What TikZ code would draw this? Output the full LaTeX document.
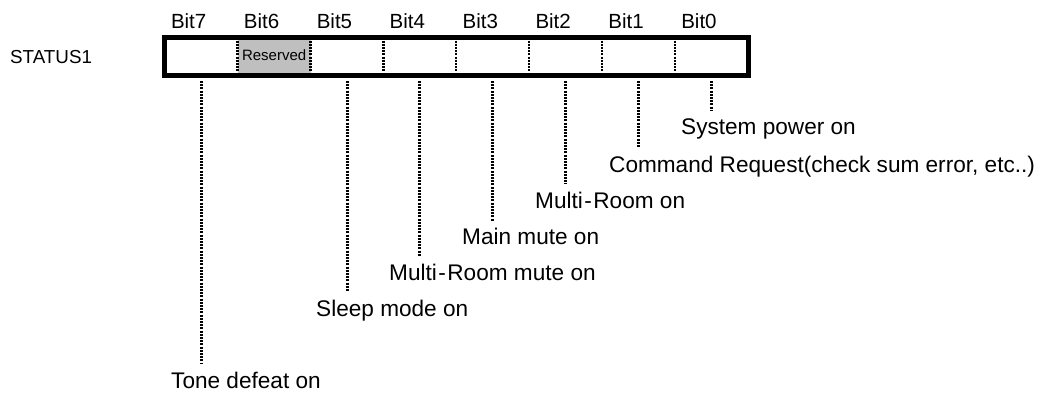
\documentclass[tikz,border=0pt]{standalone}
\usepackage{fontspec}
\setmainfont{Liberation Sans}
\begin{document}
\begin{tikzpicture}[x=1pt,y=-1pt,
  bitlbl/.style={font=\fontsize{20.5}{22}\selectfont, anchor=base west, inner sep=0pt},
  stlbl/.style={font=\fontsize{18.8}{20}\selectfont, anchor=base west, inner sep=0pt},
  desc/.style={font=\fontsize{22.6}{24}\selectfont, anchor=base west, inner sep=0pt},
  cellbox/.style={minimum width=72.9pt, minimum height=38pt, inner sep=0pt},
  divider/.style={line width=2.4pt, dash pattern=on 2pt off 1.2pt},
  hang/.style={line width=3pt, dash pattern=on 2pt off 1.2pt},
  frame/.style={line width=5pt}]
\useasboundingbox (0,0) rectangle (1047,392);
\node[stlbl] (status) at (10,63.3) {STATUS1};
% cells
\foreach \i in {0,...,7} {
  \node[cellbox] (cell\i) at ({164.8+72.9*(7-\i)+36.45},56.5) {};
}
\fill[gray!50] (cell6.north west) ++(0,2.5) rectangle ([yshift=2.5pt]cell6.south east);
\node[font=\fontsize{15}{16}\selectfont, inner sep=0pt] (res) at ([yshift=1.5pt]cell6.center) {Reserved};
\foreach \i in {0,...,6} {
  \draw[divider] (cell\i.north west) -- (cell\i.south west);
}
\draw[frame] (cell7.north west) rectangle (cell0.south east);
% bit labels
\foreach \i in {0,...,7} {
  \node[bitlbl] (b\i) at ({164.8+72.9*(7-\i)+6},28.3) {Bit\i};
}
% descriptions
\node[desc] (d0) at (681,134.5) {System power on};
\node[desc] (d1) at (609,172) {Command Request(check sum error, etc..)};
\node[desc] (d2) at (535,208) {Multi\kern1.5pt-\kern1.5pt Room on};
\node[desc] (d3) at (462,244) {Main mute on};
\node[desc] (d4) at (389,280) {Multi\kern1.5pt-\kern1.5pt Room mute on};
\node[desc] (d5) at (316,316) {Sleep mode on};
\node[desc] (d7) at (171,388) {Tone defeat on};
% hanging connectors
\foreach \i/\e in {0/111,1/148,2/184,3/221,4/256,5/292,7/363} {
  \coordinate (s\i) at (cell\i.south |- 0,81);
  \coordinate (e\i) at (cell\i.south |- 0,\e);
  \draw[hang] (s\i) -- (e\i);
}
\end{tikzpicture}
\end{document}
